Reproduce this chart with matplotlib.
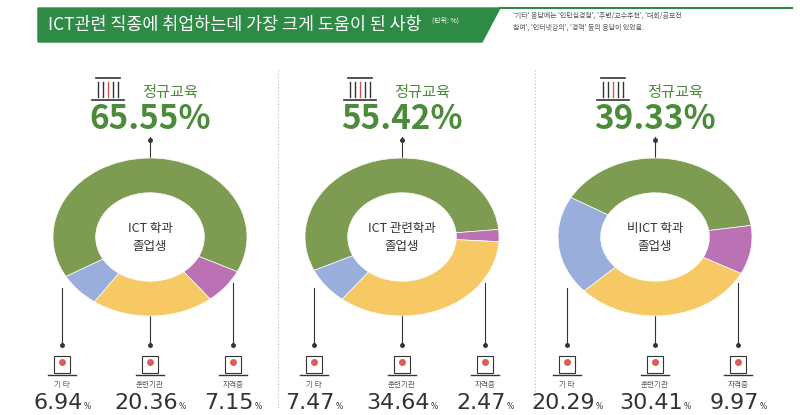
import matplotlib
matplotlib.use("Agg")
import matplotlib.pyplot as plt
from matplotlib.patches import Polygon

plt.rcParams["font.family"] = ["Noto Sans CJK KR", "Noto Sans CJK JP", "DejaVu Sans"]

groups = ["ICT 학과\n졸업생", "ICT 관련학과\n졸업생", "비ICT 학과\n졸업생"]
category_labels = ["정규교육", "자격증", "훈련기관", "기 타"]
regular_edu = [65.55, 55.42, 39.33]
certificate = [7.15, 2.47, 9.97]
training = [20.36, 34.64, 30.41]
other = [6.94, 7.47, 20.29]
start_angles = [210, 205, 150]

colors = ["#7d9c52", "#bb72b4", "#f6c965", "#99aedb"]
green_text = "#4c8b3a"
dark = "#333333"

W, H = 800, 415
fig = plt.figure(figsize=(8, 4.15), dpi=100)
bg = fig.add_axes([0, 0, 1, 1])
bg.set_xlim(0, W)
bg.set_ylim(H, 0)
bg.axis("off")

# title banner
bg.add_patch(Polygon([(38, 8), (500, 8), (482, 42), (38, 42)], closed=True,
                     color="#2e8b45", zorder=2))
bg.plot([500, 792], [8, 8], color="#2e8b45", lw=1.5)
bg.text(48, 25, "ICT관련 직종에 취업하는데 가장 크게 도움이 된 사항", color="white",
        fontsize=12.5, va="center", zorder=3)
bg.text(432, 21, "(단위: %)", color="white", fontsize=5, va="center", zorder=3)
bg.text(513, 16, "'기타' 응답에는 '인턴십경험', '주변/교수추천', '대회/공모전",
        fontsize=5, color="#555555", va="center")
bg.text(513, 28, "참여', '인터넷강의', '경력' 등의 응답이 있었음.",
        fontsize=5, color="#555555", va="center")

# dotted separators
for sx in [278, 535]:
    bg.plot([sx, sx], [70, 410], color="#bbbbbb", lw=0.8, ls=(0, (1, 2)))

centers = [150, 402, 655]
cy, rx, ry = 237, 97, 79

fig.canvas.draw()
renderer = fig.canvas.get_renderer()

for i, cx in enumerate(centers):
    vals = [regular_edu[i], certificate[i], training[i], other[i]]
    ax = fig.add_axes([(cx - rx) / W, 1 - (cy + ry) / H, 2 * rx / W, 2 * ry / H])
    ax.pie(vals, colors=colors, startangle=start_angles[i], counterclock=False,
           wedgeprops=dict(width=0.44, edgecolor="white", linewidth=0.5))
    ax.set_aspect("auto")
    ax.set_xlim(-1, 1)
    ax.set_ylim(-1, 1)
    ax.axis("off")

    bg.text(cx, cy, groups[i], ha="center", va="center", fontsize=9,
            color=dark, linespacing=1.5)

    # top label with simple building icon
    bg.text(cx + 20, 92, category_labels[0], ha="center", va="center",
            fontsize=11, color=green_text)
    bg.plot([cx - 58, cx - 26], [100, 100], color=dark, lw=1.2)
    bg.plot([cx - 54, cx - 30], [78, 78], color=dark, lw=1.2)
    for k in range(5):
        bg.plot([cx - 52 + k * 5, cx - 52 + k * 5], [82, 97],
                color="#d9534f" if k == 2 else dark, lw=1)
    bg.text(cx, 119, f"{regular_edu[i]:.2f}%", ha="center", va="center",
            fontsize=24, fontweight="bold", color=green_text)
    bg.plot([cx, cx], [137, 162], color=dark, lw=0.8)
    bg.plot(cx, 140, "o", color=dark, ms=2.5)

    # bottom labels
    offs = [(-88, 288, other[i], category_labels[3]),
            (0, 305, training[i], category_labels[2]),
            (83, 283, certificate[i], category_labels[1])]
    for dx, y0, v, lab in offs:
        x = cx + dx
        bg.plot([x, x], [y0, 345], color=dark, lw=0.8)
        bg.plot(x, 345, "o", color=dark, ms=2.5)
        bg.text(x, 385, lab, ha="center", va="center", fontsize=5.5, color="#555555")
        t = bg.text(x - 4, 403, f"{v:.2f}", ha="center", va="center", fontsize=16,
                    color=dark, family="DejaVu Sans")
        w = t.get_window_extent(renderer).width
        bg.text(x - 4 + w / 2 + 1, 406, "%", ha="left", va="center",
                fontsize=5.5, color=dark, family="DejaVu Sans")
        # simple icon
        bg.plot([x - 14, x + 14], [375, 375], color=dark, lw=1)
        bg.add_patch(Polygon([(x - 8, 373), (x + 8, 373), (x + 8, 356), (x - 8, 356)],
                             closed=True, fill=False, edgecolor=dark, lw=0.8))
        bg.plot(x, 362, "o", color="#e05a5a", ms=4)

fig.savefig("out.png", dpi=100)
